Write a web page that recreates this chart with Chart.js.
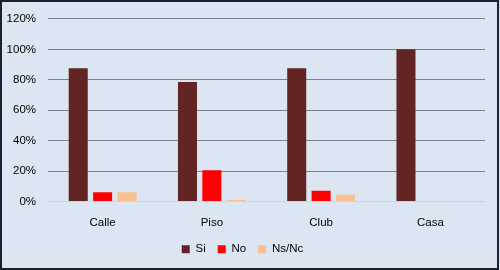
<!DOCTYPE html>
<html>
<head>
<meta charset="utf-8">
<script src="https://cdn.jsdelivr.net/npm/chart.js@4"></script>
<style>
  html, body { margin: 0; padding: 0; background: #dce6f2; }
  #wrap { position: relative; width: 500px; height: 270px; }
</style>
</head>
<body>
<div id="wrap"><canvas id="chart" width="500" height="270"></canvas></div>
<script>
// datos
const categorias = ['Calle', 'Piso', 'Club', 'Casa'];
const valoresSi = [87.5, 78.5, 87.5, 100];
const valoresNo = [6, 20.5, 7, 0];
const valoresNsNc = [6, 1, 4.5, 0];
const ticksY = [0, 20, 40, 60, 80, 100, 120];

// fondo y marco del gráfico
const fondoPlugin = {
    id: 'fondo',
    beforeDraw(chart) {
        const ctx = chart.ctx;
        ctx.save();
        ctx.fillStyle = '#dce6f2';
        ctx.fillRect(0, 0, chart.width, chart.height);
        ctx.restore();
    },
    afterDraw(chart) {
        const ctx = chart.ctx;
        ctx.save();
        ctx.strokeStyle = '#1c2028';
        ctx.lineWidth = 2;
        ctx.strokeRect(1, 1, chart.width - 3, chart.height - 2);
        ctx.restore();
    }
};

Chart.defaults.font.family = '"Liberation Sans", Arial, sans-serif';
Chart.defaults.font.size = 11.5;
Chart.defaults.color = '#000';

new Chart(document.getElementById('chart'), {
    type: 'bar',
    data: {
        labels: categorias,
        datasets: [
            { label: 'Si', data: valoresSi, backgroundColor: '#632523' },
            { label: 'No', data: valoresNo, backgroundColor: '#ff0000' },
            { label: 'Ns/Nc', data: valoresNsNc, backgroundColor: '#fac090' }
        ]
    },
    options: {
        responsive: false,
        animation: false,
        datasets: { bar: { categoryPercentage: 0.67, barPercentage: 0.78 } },
        layout: { padding: { top: 7, right: 15, bottom: 5, left: 0 } },
        plugins: {
            tooltip: { enabled: false },
            legend: {
                position: 'bottom',
                labels: { boxWidth: 8, boxHeight: 8, padding: 12, color: '#000' }
            }
        },
        scales: {
            x: {
                grid: { display: false },
                border: { display: false },
                ticks: { padding: 6 },
                afterFit(scale) { scale.height = 30; }
            },
            y: {
                min: 0,
                max: 120,
                afterBuildTicks(scale) {
                    scale.ticks = ticksY.map(v => ({ value: v }));
                },
                border: { display: false },
                grid: {
                    drawTicks: false,
                    color: ctx => ctx.tick && ctx.tick.value === 0 ? '#d0d4dc' : '#7f7f92',
                    lineWidth: 1
                },
                ticks: {
                    padding: 12,
                    callback: v => v + '%'
                },
                afterFit(scale) { scale.width = 48; }
            }
        }
    },
    plugins: [fondoPlugin]
});
</script>
</body>
</html>
